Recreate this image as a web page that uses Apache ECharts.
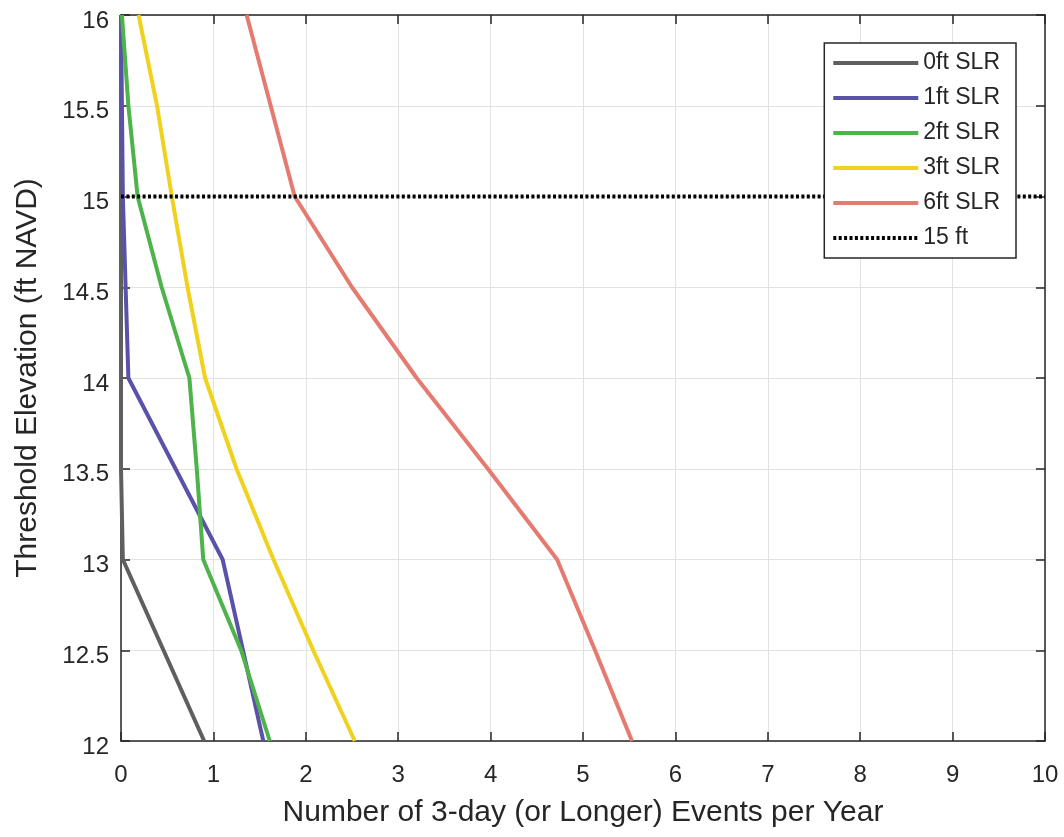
<!DOCTYPE html>
<html>
<head>
<meta charset="utf-8">
<script src="https://cdn.jsdelivr.net/npm/echarts@6/dist/echarts.min.js"></script>
<style>
  html, body { margin: 0; padding: 0; background: #fff; }
  #chart { width: 1064px; height: 837px; }
</style>
</head>
<body>
<div id="chart"></div>
<script>
// Threshold elevations (ft NAVD) at which event counts were evaluated
const elevations = [12, 12.5, 13, 13.5, 14, 14.5, 15, 15.5, 16];

// Number of 3-day (or longer) events per year for each sea-level-rise scenario
const slr0 = [0.90, 0.46, 0.02, 0.00, 0.00, 0.00, 0.00, 0.00, 0.00];
const slr1 = [1.54, 1.32, 1.10, 0.59, 0.08, 0.05, 0.02, 0.01, 0.00];
const slr2 = [1.61, 1.30, 0.89, 0.82, 0.74, 0.44, 0.18, 0.08, 0.01];
const slr3 = [2.53, 2.08, 1.65, 1.25, 0.91, 0.72, 0.55, 0.39, 0.19];
const slr6 = [5.53, 5.13, 4.72, 3.97, 3.20, 2.50, 1.88, 1.62, 1.36];

const seriesNames = ['0ft SLR', '1ft SLR', '2ft SLR', '3ft SLR', '6ft SLR'];
const seriesValues = [slr0, slr1, slr2, slr3, slr6];
const seriesColors = ['#5f5f5f', '#5a52a8', '#4db34a', '#f0d21e', '#e57a70'];

// Reference threshold line
const refName = '15 ft';
const refElevation = 15;
const xTickLabels = ['0', '1', '2', '3', '4', '5', '6', '7', '8', '9', '10'];

const FONT = 'Liberation Sans, Arial, sans-serif';
const TEXT = '#262626';

const chart = echarts.init(document.getElementById('chart'));

const lineSeries = seriesNames.map((name, i) => ({
  name,
  type: 'line',
  data: elevations.map((e, k) => [seriesValues[i][k], e]),
  showSymbol: false,
  symbol: 'none',
  lineStyle: { color: seriesColors[i], width: 4 },
  itemStyle: { color: seriesColors[i] },
  z: 2
}));

lineSeries.push({
  name: refName,
  type: 'line',
  data: [[0, refElevation], [10, refElevation]],
  showSymbol: false,
  symbol: 'none',
  lineStyle: { color: '#000', width: 4, type: [3, 2.4] },
  itemStyle: { color: '#000' },
  z: 3
});

const gridLine = { show: true, lineStyle: { color: '#e2e2e2', width: 1 } };
const frameLine = { show: true, onZero: false, lineStyle: { color: TEXT, width: 1.5 } };
const innerTick = { show: true, inside: true, length: 9, lineStyle: { color: TEXT, width: 1.5 } };

chart.setOption({
  backgroundColor: '#fff',
  animation: false,
  grid: { left: 121, right: 19, top: 15, bottom: 96 },
  legend: {
    right: 48,
    top: 43,
    z: 20,
    orient: 'vertical',
    itemWidth: 85,
    itemHeight: 24,
    itemGap: 11,
    padding: [8, 16, 8, 7],
    borderColor: '#262626',
    borderWidth: 1.5,
    backgroundColor: '#fff',
    itemStyle: { opacity: 0 },
    lineStyle: { width: 4 },
    textStyle: { fontFamily: FONT, fontSize: 23, lineHeight: 24, color: TEXT },
    data: seriesNames.concat([refName])
  },
  xAxis: [
    {
      type: 'value', min: 0, max: 10, interval: 1,
      name: 'Number of 3-day (or Longer) Events per Year',
      nameLocation: 'middle', nameGap: 57,
      nameTextStyle: { fontFamily: FONT, fontSize: 30, color: TEXT },
      axisLine: frameLine,
      axisTick: innerTick,
      axisLabel: {
        fontFamily: FONT, fontSize: 24, color: TEXT, margin: 22,
        formatter: v => xTickLabels[Math.round(v)]
      },
      splitLine: gridLine
    },
    {
      type: 'value', min: 0, max: 10, interval: 1, position: 'top',
      axisLine: frameLine,
      axisTick: innerTick,
      axisLabel: { show: false },
      splitLine: { show: false }
    }
  ],
  yAxis: [
    {
      type: 'value', min: 12, max: 16, interval: 0.5,
      name: 'Threshold Elevation (ft NAVD)',
      nameLocation: 'middle', nameGap: 78, nameRotate: 90,
      nameTextStyle: { fontFamily: FONT, fontSize: 30, color: TEXT },
      axisLine: frameLine,
      axisTick: innerTick,
      axisLabel: {
        fontFamily: FONT, fontSize: 24, color: TEXT, margin: 12,
        verticalAlign: 'top', lineHeight: 12
      },
      splitLine: gridLine
    },
    {
      type: 'value', min: 12, max: 16, interval: 0.5, position: 'right',
      axisLine: frameLine,
      axisTick: innerTick,
      axisLabel: { show: false },
      splitLine: { show: false }
    }
  ],
  series: lineSeries
});
</script>
</body>
</html>
